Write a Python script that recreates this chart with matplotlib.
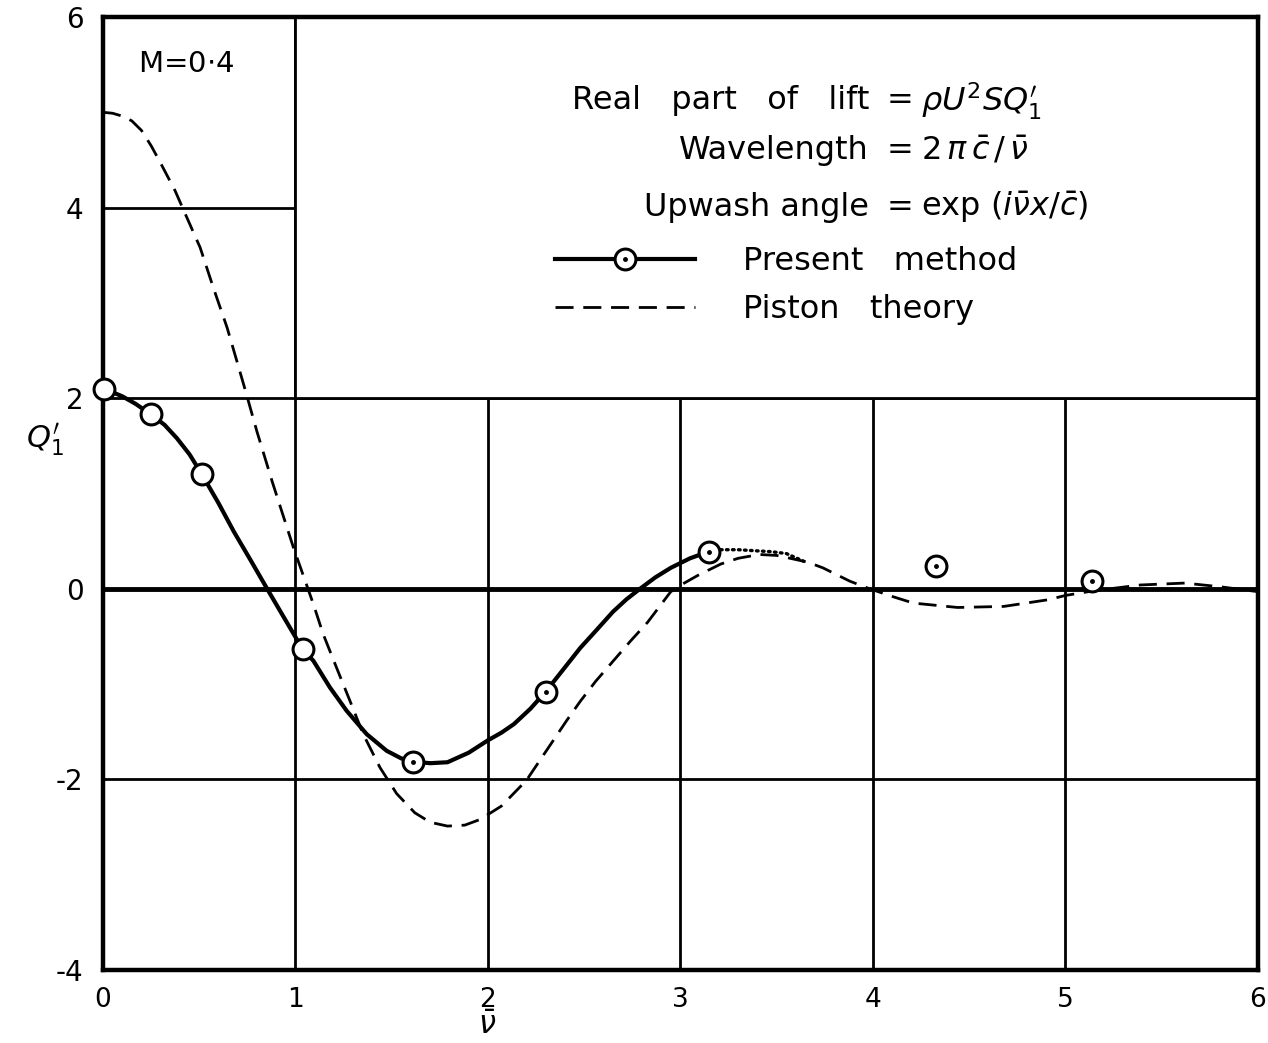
import matplotlib
matplotlib.use('Agg')
from matplotlib import pyplot as plt
from matplotlib.patches import Rectangle
from matplotlib.lines import Line2D

# present method, calculated points
pts_x = [0.005, 0.249, 0.514, 1.037, 1.612, 2.30, 3.147, 4.33, 5.14]
pts_y = [2.10, 1.83, 1.20, -0.633, -1.815, -1.08, 0.39, 0.24, 0.08]
dotted_pts = [4, 5, 6, 7, 8]   # circles drawn with a centre dot

# present method, faired curve (solid)
solid_x = [0.005, 0.10, 0.17, 0.249, 0.32, 0.384, 0.45, 0.514, 0.60, 0.68,
           0.77, 0.85, 0.94, 1.037, 1.093, 1.179, 1.266, 1.37, 1.474, 1.55,
           1.612, 1.70, 1.79, 1.90, 2.00, 2.07, 2.135, 2.22, 2.30, 2.39,
           2.48, 2.57, 2.65, 2.72, 2.79, 2.87, 2.95, 3.05, 3.147]
solid_y = [2.10, 2.02, 1.94, 1.83, 1.72, 1.58, 1.41, 1.20, 0.90, 0.60,
           0.29, 0.01, -0.30, -0.633, -0.755, -1.035, -1.28, -1.525, -1.70, -1.78,
           -1.815, -1.83, -1.82, -1.72, -1.59, -1.51, -1.42, -1.26, -1.08, -0.85,
           -0.62, -0.42, -0.24, -0.11, 0.0, 0.12, 0.22, 0.32, 0.39]

# present method, continuation (dotted)
dot_x = [3.147, 3.19, 3.30, 3.38, 3.47, 3.55, 3.64]
dot_y = [0.39, 0.41, 0.41, 0.40, 0.39, 0.37, 0.29]

# piston theory (dashed)
pist_x = [0.0, 0.05, 0.10, 0.15, 0.20, 0.25, 0.296, 0.374, 0.435, 0.505,
          0.575, 0.645, 0.697, 0.74, 0.80, 0.88, 0.99, 1.093, 1.144, 1.214,
          1.283, 1.352, 1.439, 1.526, 1.62, 1.70, 1.79, 1.88, 1.96, 2.07,
          2.20, 2.27, 2.34, 2.41, 2.48, 2.56, 2.65, 2.74, 2.83, 2.89,
          2.95, 3.02, 3.09, 3.21, 3.30, 3.41, 3.50, 3.57, 3.66, 3.74,
          3.88, 3.97, 4.10, 4.21, 4.44, 4.68, 4.91, 5.0, 5.15, 5.39,
          5.62, 5.81, 6.0]
pist_y = [5.0, 4.99, 4.96, 4.91, 4.81, 4.65, 4.48, 4.18, 3.90, 3.58,
          3.15, 2.74, 2.38, 2.08, 1.65, 1.12, 0.43, -0.16, -0.475, -0.83,
          -1.175, -1.525, -1.875, -2.15, -2.35, -2.45, -2.49, -2.48, -2.42, -2.28,
          -2.01, -1.80, -1.59, -1.38, -1.18, -0.97, -0.76, -0.55, -0.35, -0.19,
          -0.03, 0.06, 0.14, 0.26, 0.32, 0.36, 0.35, 0.32, 0.28, 0.22,
          0.08, 0.01, -0.08, -0.15, -0.196, -0.185, -0.115, -0.07, -0.02, 0.04,
          0.06, 0.02, -0.03]

xticks = [0, 1, 2, 3, 4, 5, 6]
xtick_labels = ['0', '1', '2', '3', '4', '5', '6']
yticks = [-4, -2, 0, 2, 4, 6]
ytick_labels = ['-4', '-2', '0', '2', '4', '6']

plt.rcParams['font.family'] = ['DejaVu Sans']
plt.rcParams['mathtext.fontset'] = 'dejavusans'

fig = plt.figure(figsize=(12.68, 10.43), dpi=100)
ax = fig.add_axes([0.0812, 0.070, 0.9108, 0.9137])

ax.set_xlim(0, 6)
ax.set_ylim(-4, 6)
ax.set_xticks(xticks)
ax.set_xticklabels(xtick_labels)
ax.set_yticks(yticks)
ax.set_yticklabels(ytick_labels)
ax.tick_params(length=0, labelsize=20, pad=14)
ax.tick_params(axis='x', labelsize=19, pad=12)

ax.grid(True, color='black', linewidth=2.0, zorder=0.5)
ax.set_axisbelow(True)
ax.axhline(0, color='black', linewidth=3.5, zorder=0.8)
for s in ax.spines.values():
    s.set_linewidth(3.2)

# blank panel holding the key
ax.add_patch(Rectangle((1, 2), 5, 4, facecolor='white', edgecolor='black',
                       linewidth=2.0, zorder=1))

ax.plot(pist_x, pist_y, color='black', linewidth=2.0, dashes=(6.5, 3.5), zorder=2)
ax.plot(solid_x, solid_y, color='black', linewidth=3.0, zorder=3,
        solid_joinstyle='round')
ax.plot(dot_x, dot_y, color='black', linewidth=2.4, linestyle=(0, (0.5, 1.3)),
        dash_capstyle='round', zorder=3)
ax.plot(pts_x, pts_y, linestyle='none', marker='o', markersize=15,
        markerfacecolor='white', markeredgecolor='black', markeredgewidth=2.2,
        zorder=4, clip_on=False)
ax.plot([pts_x[i] for i in dotted_pts], [pts_y[i] for i in dotted_pts],
        linestyle='none', marker='o', markersize=2.5, color='black', zorder=5)

ax.text(0.18, 5.51, r'M=0$\cdot$4', fontsize=21, ha='left', va='center')

rows = [
    ('Real   part   of   lift', r'$\rho U^2 S Q_1^{\prime}$', 5.12),
    ('Wavelength', r'$2\,\pi\,\bar{c}\,/\,\bar{\nu}$', 4.60),
    ('Upwash angle', r'$\exp\,(i\bar{\nu}x/\bar{c})$', 4.00),
]
for left, right, yy in rows:
    ax.text(3.98, yy, left, fontsize=23, ha='right', va='center')
    ax.text(4.14, yy, '=', fontsize=23, ha='center', va='center')
    ax.text(4.25, yy, right, fontsize=23, ha='left', va='center')

h_line = Line2D([], [], color='black', linewidth=3.0)
h_mark = Line2D([], [], linestyle='none', marker='o', markersize=15,
                markerfacecolor='white', markeredgecolor='black', markeredgewidth=2.2)
h_dot = Line2D([], [], linestyle='none', marker='o', markersize=2.5, color='black')
h_pist = Line2D([], [], color='black', linewidth=2.0, dashes=(6.5, 3.5))
ax.legend([(h_line, h_mark, h_dot), h_pist], ['Present   method', 'Piston   theory'],
          loc='upper left', bbox_to_anchor=(2.348, 3.60), bbox_transform=ax.transData,
          frameon=False, fontsize=23, handlelength=4.4, handletextpad=1.5,
          labelspacing=0.55, borderpad=0, borderaxespad=0, numpoints=1)

fig.text(487 / 1268, 1 - 1040 / 1043, r'$\bar{\nu}$', fontsize=22, ha='center', va='bottom')
fig.text(45 / 1268, 1 - 440 / 1043, r'$Q_1^{\prime}$', fontsize=22, ha='center', va='center')

plt.savefig('out.png', dpi=100)
